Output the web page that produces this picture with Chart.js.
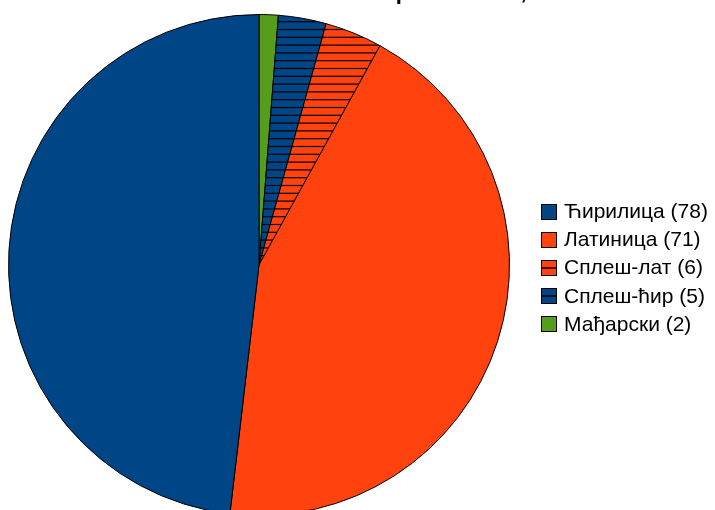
<!DOCTYPE html>
<html>
<head>
<meta charset="utf-8">
<script src="https://cdn.jsdelivr.net/npm/chart.js@4/dist/chart.umd.min.js"></script>
<style>
  html, body { margin: 0; padding: 0; background: #fff; overflow: hidden; }
  #wrap { width: 715px; height: 530px; }
</style>
</head>
<body>
<div id="wrap"><canvas id="c" width="715" height="530"></canvas></div>
<script>
// Slices in clockwise order from 12 o'clock
const categories = ['Мађарски', 'Сплеш-ћир', 'Сплеш-лат', 'Латиница', 'Ћирилица'];
const counts = [2, 5, 6, 71, 78];
const baseColors = ['#579d1c', '#004586', '#ff420e', '#ff420e', '#004586'];
const hatched = [false, true, true, false, false];
// Legend lists the slices largest first
const legendOrder = [4, 3, 2, 1, 0];
const titleText = 'Употреба писма, 2011';

const canvas = document.getElementById('c');
const ctx = canvas.getContext('2d');

// Horizontal-line hatch fill
function hatch(color) {
  const p = document.createElement('canvas');
  p.width = 16; p.height = 39;
  const g = p.getContext('2d');
  g.fillStyle = color;
  g.fillRect(0, 0, 16, 39);
  g.strokeStyle = '#000';
  g.lineWidth = 1.2;
  for (let k = 0; k < 5; k++) {
    const y = 6.1 + 7.8 * k;
    g.beginPath(); g.moveTo(0, y); g.lineTo(16, y); g.stroke();
  }
  return ctx.createPattern(p, 'repeat');
}

const fills = baseColors.map((c, i) => hatched[i] ? hatch(c) : c);

const titlePlugin = {
  id: 'topTitle',
  afterDraw(chart) {
    const c = chart.ctx;
    c.save();
    c.font = 'bold 22px "Liberation Sans", Arial, sans-serif';
    c.fillStyle = '#000';
    c.textAlign = 'left';
    c.textBaseline = 'alphabetic';
    c.fillText(titleText, 346, -1.5);
    c.restore();
  }
};

const legendPlugin = {
  id: 'sideLegend',
  afterDraw(chart) {
    const c = chart.ctx;
    c.save();
    c.font = '21px "Liberation Sans", Arial, sans-serif';
    c.textBaseline = 'middle';
    c.textAlign = 'left';
    legendOrder.forEach((idx, i) => {
      const y = 211.5 + 28.1 * i;
      const bs = 15;
      const bx = 541.5, by = Math.round(y - bs / 2) + 0.5;
      c.fillStyle = baseColors[idx];
      c.fillRect(bx, by, bs, bs);
      if (hatched[idx]) {
        c.strokeStyle = '#000';
        c.lineWidth = 1.5;
        c.beginPath();
        c.moveTo(bx, by + bs / 2);
        c.lineTo(bx + bs, by + bs / 2);
        c.stroke();
      }
      c.strokeStyle = '#000';
      c.lineWidth = 1;
      c.strokeRect(bx, by, bs, bs);
      c.fillStyle = '#000';
      c.fillText(categories[idx] + ' (' + counts[idx] + ')', 564, y + 1);
    });
    c.restore();
  }
};

new Chart(canvas, {
  type: 'pie',
  data: {
    labels: categories,
    datasets: [{
      data: counts,
      backgroundColor: fills,
      borderColor: '#000',
      borderWidth: 1
    }]
  },
  options: {
    responsive: false,
    animation: false,
    events: [],
    layout: { padding: { top: 14, left: 8, right: 205, bottom: 14 } },
    plugins: {
      legend: { display: false },
      tooltip: { enabled: false },
      title: { display: false }
    }
  },
  plugins: [titlePlugin, legendPlugin]
});
</script>
</body>
</html>
